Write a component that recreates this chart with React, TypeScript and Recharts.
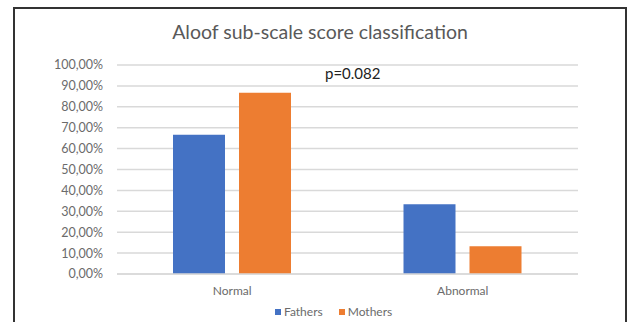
import React from 'react';
import { BarChart, Bar, XAxis, YAxis, CartesianGrid } from 'recharts';

const categories = ['Normal', 'Abnormal'];
const fathers = [66.67, 33.33];
const mothers = [86.67, 13.33];
const yTicks = [0, 10, 20, 30, 40, 50, 60, 70, 80, 90, 100];
const seriesNames = ['Fathers', 'Mothers'];
const seriesColors = ['#4472C4', '#ED7D31'];
const chartTitle = 'Aloof sub-scale score classification';
const pLabel = 'p=0.082';

const data = categories.map((name, i) => ({ name, Fathers: fathers[i], Mothers: mothers[i] }));

const fmtPct = (v: number) => v.toFixed(2).replace('.', ',') + '%';

const font = 'Lato, "Liberation Sans", sans-serif';

const App: React.FC = () => {
    return (
        <div style={{ position: 'fixed', left: 0, top: 0, width: 627, height: 322, background: '#fff', overflow: 'hidden', fontFamily: font }}>
            {/* chart frame */}
            <div style={{ position: 'absolute', left: 13, top: 7, width: 610, height: 330, border: '2px solid #333' }} />

            <div style={{ position: 'absolute', left: 0, top: 0 }}>
                <BarChart
                    width={627}
                    height={322}
                    data={data}
                    margin={{ top: 65, right: 49, bottom: 18, left: 0 }}
                    barSize={52}
                    barGap={14}
                >
                    <CartesianGrid vertical={false} stroke="#D9D9D9" strokeWidth={1.5} />
                    <XAxis
                        dataKey="name"
                        height={30}
                        axisLine={{ stroke: '#D9D9D9', strokeWidth: 1.5 }}
                        tickLine={false}
                        tickMargin={6}
                        tick={{ fill: '#6b6b6b', fontSize: 12, fontFamily: font }}
                    />
                    <YAxis
                        width={117}
                        domain={[0, 100]}
                        ticks={yTicks}
                        interval={0}
                        axisLine={false}
                        tickLine={false}
                        tickMargin={8}
                        tickFormatter={fmtPct}
                        tick={{ fill: '#6b6b6b', fontSize: 12.5, fontFamily: font }}
                    />
                    {seriesNames.map((s, i) => (
                        <Bar key={s} dataKey={s} fill={seriesColors[i]} isAnimationActive={false} />
                    ))}
                </BarChart>
            </div>

            <div style={{ position: 'absolute', left: 0, width: 640, top: 20, textAlign: 'center', fontSize: 19.5, color: '#595959' }}>
                {chartTitle}
            </div>

            <div style={{ position: 'absolute', left: 325, top: 64, fontSize: 15, color: '#222' }}>
                {pLabel}
            </div>

            {/* series legend */}
            <div style={{ position: 'absolute', left: 275, top: 304, display: 'flex', alignItems: 'center', fontSize: 12, color: '#6b6b6b' }}>
                {seriesNames.map((s, i) => (
                    <div key={s} style={{ display: 'flex', alignItems: 'center', marginRight: 16 }}>
                        <span style={{ width: 6, height: 6, background: seriesColors[i], marginRight: 3, display: 'inline-block' }} />
                        <span>{s}</span>
                    </div>
                ))}
            </div>
        </div>
    );
};

export default App;
